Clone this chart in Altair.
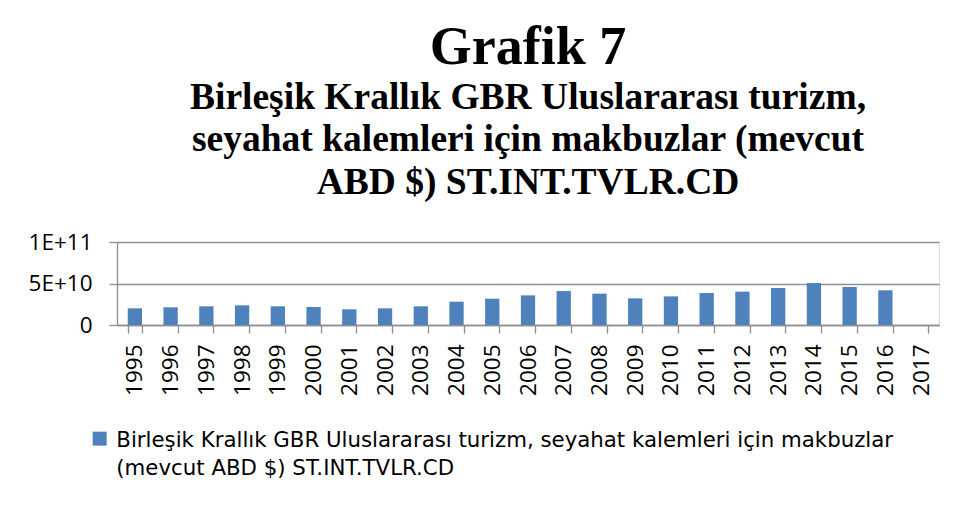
import json
import altair as alt
import pandas as pd

YEARS = [str(y) for y in range(1995, 2018)]
VALUES = [20.1e9, 21.3e9, 22.5e9, 23.7e9, 22.5e9, 21.7e9, 18.9e9, 20.1e9, 22.5e9, 28.1e9,
          31.7e9, 35.7e9, 41.0e9, 37.8e9, 32.1e9, 34.5e9, 38.5e9, 40.2e9, 44.6e9, 50.6e9,
          45.8e9, 41.8e9, None]
LEGEND_LINES = ["Birleşik Krallık GBR Uluslararası turizm, seyahat kalemleri için makbuzlar",
                "(mevcut ABD $) ST.INT.TVLR.CD"]
SERIES = " ".join(LEGEND_LINES)
TITLE = "Grafik 7"
SUBTITLE = ["Birleşik Krallık GBR Uluslararası turizm,",
            "seyahat kalemleri için makbuzlar (mevcut",
            "ABD $) ST.INT.TVLR.CD"]
Y_TICKS = [0, 5e10, 1e11]

df = pd.DataFrame({"year": YEARS, "value": VALUES, "series": SERIES})

GRID = "#8f8f8f"

chart = alt.Chart(df).mark_bar(color="#4F81BD").encode(
    x=alt.X("year:N", sort=YEARS,
            scale=alt.Scale(domain=YEARS, paddingInner=0.6, paddingOuter=0.3),
            axis=alt.Axis(title=None, labelAngle=-90, labelAlign="right", labelBaseline="middle",
                          labelFont="Open Sans", labelFontSize=22.5, labelColor="black",
                          labelPadding=11, tickSize=8, tickBand="extent", tickColor=GRID,
                          domainColor=GRID, domainWidth=1.3, tickWidth=1.3, grid=False)),
    y=alt.Y("value:Q", scale=alt.Scale(domain=[0, 1e11], nice=False),
            axis=alt.Axis(title=None, values=Y_TICKS,
                          labelExpr="datum.value == 0 ? '0' : upper(format(datum.value, '.0e'))",
                          labelFont="Open Sans", labelFontSize=22.5, labelColor="black",
                          labelPadding=17, tickSize=8, tickColor=GRID, tickWidth=1.3,
                          domainColor=GRID, domainWidth=1.3,
                          grid=True, gridColor=GRID, gridWidth=1.3)),
    color=alt.Color("series:N", scale=alt.Scale(range=["#4F81BD"]),
                    legend=alt.Legend(title=None, orient="none", legendX=-28, legendY=194,
                                      labelExpr=json.dumps(LEGEND_LINES),
                                      labelFont="DejaVu Sans", labelFontSize=21.3, labelColor="black",
                                      labelBaseline="alphabetic", labelLimit=2000, labelOffset=6,
                                      symbolType="M-0.7,-1.5L0.7,-1.5L0.7,-0.1L-0.7,-0.1Z",
                                      symbolSize=400, symbolStrokeWidth=0, symbolOpacity=1)),
).properties(
    width=822, height=83,
    title=alt.TitleParams(text=TITLE, subtitle=SUBTITLE, anchor="middle", frame="group",
                          font="Liberation Serif", fontSize=54, fontWeight="bold", color="black",
                          subtitleFont="Liberation Serif", subtitleFontSize=37.5,
                          subtitleFontWeight="bold", subtitleColor="black",
                          subtitleLineHeight=42.5, subtitlePadding=4, offset=30),
    autosize=alt.AutoSizeParams(type="none"),
    padding={"left": 109, "top": 234, "right": 11, "bottom": 170},
).configure_view(stroke=None).configure(style={"guide-label": {"lineHeight": 28}})

chart.save("out.html", embed_options={"renderer": "svg", "actions": False})
